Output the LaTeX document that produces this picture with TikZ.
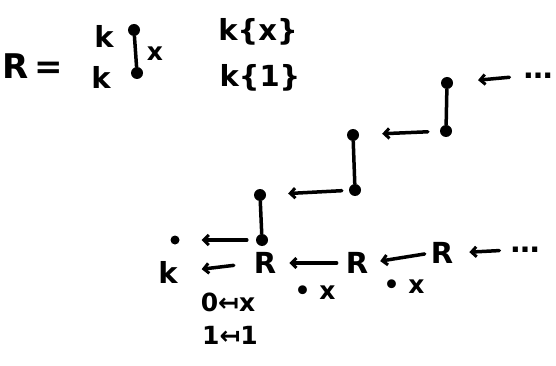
\documentclass[tikz,border=0pt]{standalone}
\usepackage{fontspec}
\setmainfont{DejaVu Sans}
\usetikzlibrary{arrows.meta}
\begin{document}
\begin{tikzpicture}[x=1pt,y=-1pt,
  pen/.style={line width=3.5pt,line cap=round},
  arr/.style={pen,-{Straight Barb[length=5pt,width=10pt,line width=3pt]}},
  dot/.style={circle,fill,inner sep=0pt,minimum size=12pt},
  sdot/.style={circle,fill,inner sep=0pt,minimum size=9pt},
  huge/.style={font=\fontsize{34}{40}\selectfont\bfseries,inner sep=0pt},
  big/.style={font=\fontsize{29}{34}\selectfont\bfseries,inner sep=0pt},
  small/.style={font=\fontsize{25}{30}\selectfont\bfseries,inner sep=0pt}]
\useasboundingbox (0,0) rectangle (556,366);
% top definition
\node[huge] (Req) at (33,66) {R\,=};
\node[big] (kt) at (104,36) {k};
\node[big] (kb) at (101,77) {k};
\node[dot] (t0) at (134,30) {};
\node[dot] (b0) at (137,73) {};
\draw[pen] (t0) -- (b0);
\node[small] (xl) at (155,54) {x};
\node[big] (kx) at (258,32) {k\{x\}};
\node[big] (k1) at (260,78) {k\{1\}};
% staircase
\node[dot] (s3t) at (447,83) {};
\node[dot] (s3b) at (446,131) {};
\node[dot] (s2t) at (353,135) {};
\node[dot] (s2b) at (355,190) {};
\node[dot] (s1t) at (260,195) {};
\node[dot] (s1b) at (262,240) {};
\node[sdot] (s0) at (175,240) {};
\node[big] (tdots) at (538,76) {…};
\draw[pen] (s3t) -- (s3b);
\draw[pen] (s2t) -- (s2b);
\draw[pen] (s1t) -- (s1b);
\draw[arr,shorten <=14pt,shorten >=25pt] (tdots.west) -- (s3t);
\draw[arr,shorten <=12pt,shorten >=23pt] (s3b) -- (s2t);
\draw[arr,shorten <=7pt,shorten >=22pt] (s2b) -- (s1t);
\draw[arr,shorten <=9pt,shorten >=22pt] (s1b) -- (s0);
% bottom row
\node[big] (k0) at (168,272) {k};
\node[big] (R1) at (265,263) {R};
\node[big] (R2) at (357,263) {R};
\node[big] (R3) at (442,253) {R};
\node[big] (bdots) at (525,250) {…};
\draw[arr,shorten <=20pt,shorten >=24pt] (R1.west) -- (k0.east);
\draw[arr,shorten <=9pt,shorten >=13pt] (R2.west) -- (R1.east);
\draw[arr,shorten <=6pt,shorten >=12pt] (R3.west) -- (R2.east);
\draw[arr,shorten <=11pt,shorten >=16pt] (bdots.west) -- (R3.east);
\node[small] (m1) at (315,293) {• x};
\node[small] (m2) at (404,287) {• x};
\node[small] (e1) at (228,302) {0↤x};
\node[small] (e2) at (230,335) {1↤1};
\end{tikzpicture}
\end{document}
